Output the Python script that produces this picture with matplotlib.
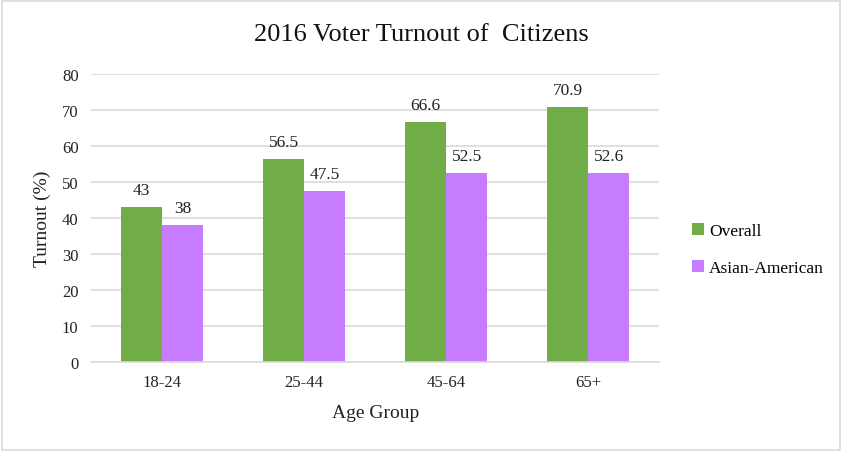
import numpy as np
import matplotlib.pyplot as plt

plt.rcParams['font.family'] = ['Liberation Serif', 'DejaVu Serif']

groups = ['18-24', '25-44', '45-64', '65+']
overall = [43, 56.5, 66.6, 70.9]
asian = [38, 47.5, 52.5, 52.6]
overall_lbl = ['43', '56.5', '66.6', '70.9']
asian_lbl = ['38', '47.5', '52.5', '52.6']

fig = plt.figure(figsize=(8.43, 4.52), dpi=100)
ax = fig.add_axes([0.108, 0.197, 0.674, 0.637])

x = np.arange(len(groups))
w = 0.29
b1 = ax.bar(x - w / 2, overall, w, color='#70AD47', label='Overall')
b2 = ax.bar(x + w / 2, asian, w, color='#C77CFF', label='Asian-American')

for bars, lbls in ((b1, overall_lbl), (b2, asian_lbl)):
    for r, t in zip(bars, lbls):
        ax.text(r.get_x() + r.get_width() / 2, r.get_height() + 2.5, t,
                ha='center', va='bottom', fontsize=12.5, color='#222222')

ax.set_xlim(-0.5, 3.5)
ax.set_ylim(0, 80)
ax.set_yticks(range(0, 81, 10))
ax.set_xticks(x)
ax.set_xticklabels(groups)
ax.tick_params(length=0, labelsize=12, colors='#222222', pad=9)
ax.yaxis.grid(True, color='#D9D9D9', linewidth=1.2)
ax.set_axisbelow(True)
for s in ['top', 'right', 'left']:
    ax.spines[s].set_visible(False)
ax.spines['bottom'].set_color('#D9D9D9')
ax.spines['bottom'].set_linewidth(1.2)

ax.set_xlabel('Age Group', fontsize=14, color='#222222', labelpad=10)
ax.set_ylabel('Turnout (%)', fontsize=14, color='#222222', labelpad=8)
fig.text(0.5, 0.922, '2016 Voter Turnout of  Citizens', ha='center', va='center',
         fontsize=19, color='#111111')

ax.legend(loc='center left', bbox_to_anchor=(1.03, 0.39), frameon=False,
          fontsize=12.5, handlelength=0.7, handleheight=0.7, handletextpad=0.3,
          labelspacing=1.2)

fig.patches.append(plt.Rectangle((0.002, 0.003), 0.995, 0.993, transform=fig.transFigure,
                                 fill=False, edgecolor='#D9D9D9', linewidth=1.2))

plt.savefig('out.png', dpi=100)
